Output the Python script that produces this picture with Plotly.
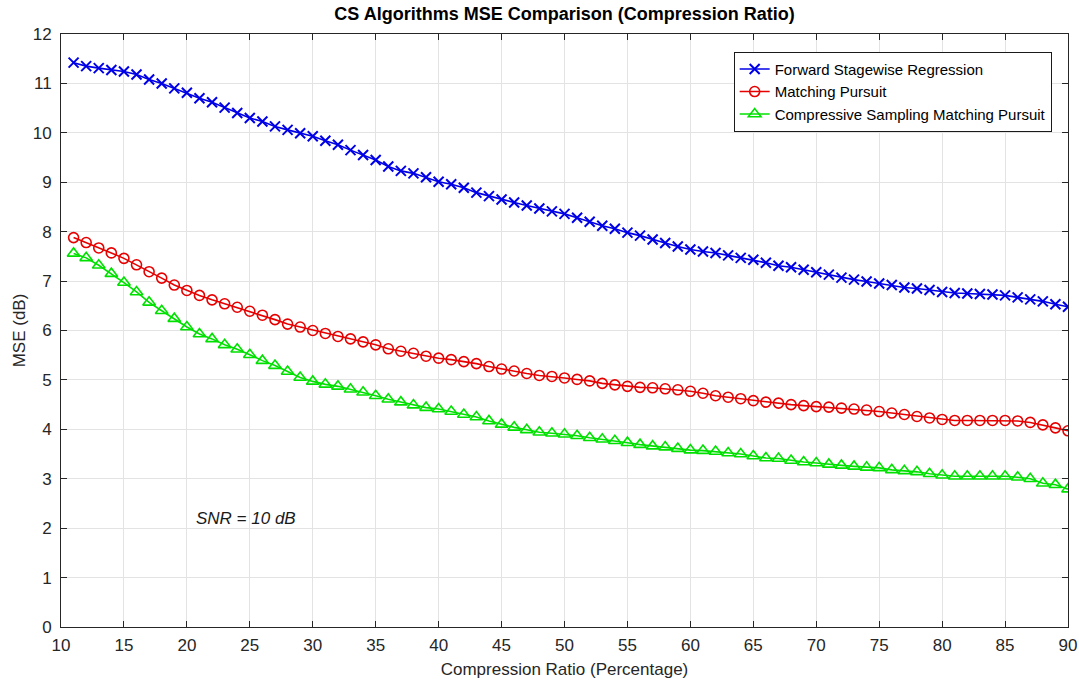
import plotly.graph_objects as go

# Compression ratio (percentage) values on the x axis
ratio = list(range(11, 91))

# MSE (dB) for each algorithm
mse_fsr = [11.42, 11.35, 11.31, 11.27, 11.24, 11.18, 11.08, 11.00, 10.90, 10.81,
           10.70, 10.62, 10.51, 10.40, 10.30, 10.23, 10.13, 10.06, 9.99, 9.93,
           9.84, 9.76, 9.65, 9.55, 9.45, 9.32, 9.23, 9.18, 9.10, 9.01,
           8.96, 8.89, 8.79, 8.72, 8.65, 8.59, 8.53, 8.47, 8.41, 8.36,
           8.28, 8.20, 8.12, 8.06, 7.98, 7.92, 7.84, 7.77, 7.70, 7.64,
           7.60, 7.57, 7.52, 7.47, 7.43, 7.37, 7.31, 7.28, 7.23, 7.18,
           7.13, 7.07, 7.03, 6.99, 6.95, 6.92, 6.87, 6.85, 6.82, 6.78,
           6.76, 6.75, 6.74, 6.73, 6.71, 6.67, 6.63, 6.59, 6.53, 6.48]

mse_mp = [7.88, 7.78, 7.67, 7.57, 7.46, 7.33, 7.19, 7.06, 6.92, 6.81,
          6.71, 6.62, 6.54, 6.47, 6.39, 6.31, 6.22, 6.13, 6.07, 6.00,
          5.94, 5.88, 5.83, 5.77, 5.71, 5.63, 5.58, 5.54, 5.48, 5.44,
          5.41, 5.37, 5.33, 5.27, 5.22, 5.18, 5.13, 5.09, 5.07, 5.04,
          5.01, 4.98, 4.93, 4.90, 4.87, 4.85, 4.84, 4.82, 4.80, 4.77,
          4.73, 4.68, 4.65, 4.62, 4.58, 4.55, 4.53, 4.50, 4.48, 4.46,
          4.45, 4.43, 4.41, 4.39, 4.36, 4.33, 4.30, 4.26, 4.23, 4.20,
          4.18, 4.18, 4.18, 4.18, 4.18, 4.17, 4.14, 4.09, 4.03, 3.97]

mse_cosamp = [7.56, 7.47, 7.32, 7.15, 6.97, 6.78, 6.57, 6.40, 6.24, 6.07,
              5.93, 5.83, 5.71, 5.62, 5.51, 5.39, 5.29, 5.17, 5.05, 4.97,
              4.91, 4.87, 4.81, 4.75, 4.68, 4.61, 4.55, 4.49, 4.44, 4.41,
              4.36, 4.30, 4.25, 4.17, 4.10, 4.04, 3.99, 3.94, 3.92, 3.90,
              3.87, 3.83, 3.80, 3.77, 3.73, 3.69, 3.66, 3.64, 3.61, 3.58,
              3.57, 3.55, 3.52, 3.50, 3.46, 3.42, 3.41, 3.37, 3.34, 3.32,
              3.29, 3.27, 3.25, 3.23, 3.22, 3.18, 3.16, 3.14, 3.10, 3.07,
              3.05, 3.05, 3.05, 3.05, 3.05, 3.03, 3.00, 2.91, 2.88, 2.79]

x_ticks = list(range(10, 91, 5))
y_ticks = list(range(0, 13))

FONT = "Liberation Sans, Arial, Helvetica, sans-serif"
AXIS_COLOR = "#262626"
GRID_COLOR = "#e3e3e3"

fig = go.Figure()

fig.add_trace(go.Scatter(
    x=ratio, y=mse_fsr, mode="lines+markers",
    name="Forward Stagewise Regression",
    line=dict(color="#0000e6", width=1.6),
    marker=dict(symbol="x-thin-open", size=10, line=dict(color="#0000e6", width=2)),
))
fig.add_trace(go.Scatter(
    x=ratio, y=mse_mp, mode="lines+markers",
    name="Matching Pursuit",
    line=dict(color="#e60000", width=1.6),
    marker=dict(symbol="circle-open", size=10, color="#e60000", line=dict(width=1.6)),
))
fig.add_trace(go.Scatter(
    x=ratio, y=mse_cosamp, mode="lines+markers",
    name="Compressive Sampling Matching Pursuit",
    line=dict(color="#00e000", width=1.6),
    marker=dict(symbol="triangle-up-open", size=11, color="#00e000", line=dict(width=1.6)),
))

fig.add_annotation(
    x=20.6, y=2.2, xref="x", yref="y", xanchor="left", yanchor="middle",
    text="<i>SNR = 10 dB</i>", showarrow=False,
    font=dict(family=FONT, size=17, color="#1a1a1a"),
)

fig.update_layout(
    width=1079, height=685,
    margin=dict(l=61, r=11, t=34, b=58, autoexpand=False),
    paper_bgcolor="white", plot_bgcolor="white",
    font=dict(family=FONT, size=17, color=AXIS_COLOR),
    title=dict(
        text="<b>CS Algorithms MSE Comparison (Compression Ratio)</b>",
        x=0.5, xref="paper", y=1 - 14 / 685, yref="container",
        xanchor="center", yanchor="middle",
        font=dict(family=FONT, size=18, color="#000000"),
    ),
    showlegend=True,
    legend=dict(
        x=0.668, y=0.97, xanchor="left", yanchor="top",
        bgcolor="white", bordercolor="#1a1a1a", borderwidth=1,
        font=dict(family=FONT, size=15, color="#000000"),
        tracegroupgap=0, itemwidth=30,
    ),
)

fig.update_xaxes(
    range=[10, 90], tickvals=x_ticks, automargin=False,
    showgrid=True, gridcolor=GRID_COLOR, gridwidth=1,
    showline=True, linecolor=AXIS_COLOR, linewidth=1, mirror="ticks",
    ticks="inside", ticklen=6, tickcolor=AXIS_COLOR, ticklabelstandoff=3,
    zeroline=False,
    title=dict(text="Compression Ratio (Percentage)", standoff=8,
               font=dict(family=FONT, size=17, color=AXIS_COLOR)),
)
fig.update_yaxes(
    range=[0, 12], tickvals=y_ticks, automargin=False,
    showgrid=True, gridcolor=GRID_COLOR, gridwidth=1,
    showline=True, linecolor=AXIS_COLOR, linewidth=1, mirror="ticks",
    ticks="inside", ticklen=6, tickcolor=AXIS_COLOR, ticklabelstandoff=5,
    zeroline=False,
    title=dict(text="MSE (dB)", standoff=2,
               font=dict(family=FONT, size=17, color=AXIS_COLOR)),
)

fig.write_html("out.html")
